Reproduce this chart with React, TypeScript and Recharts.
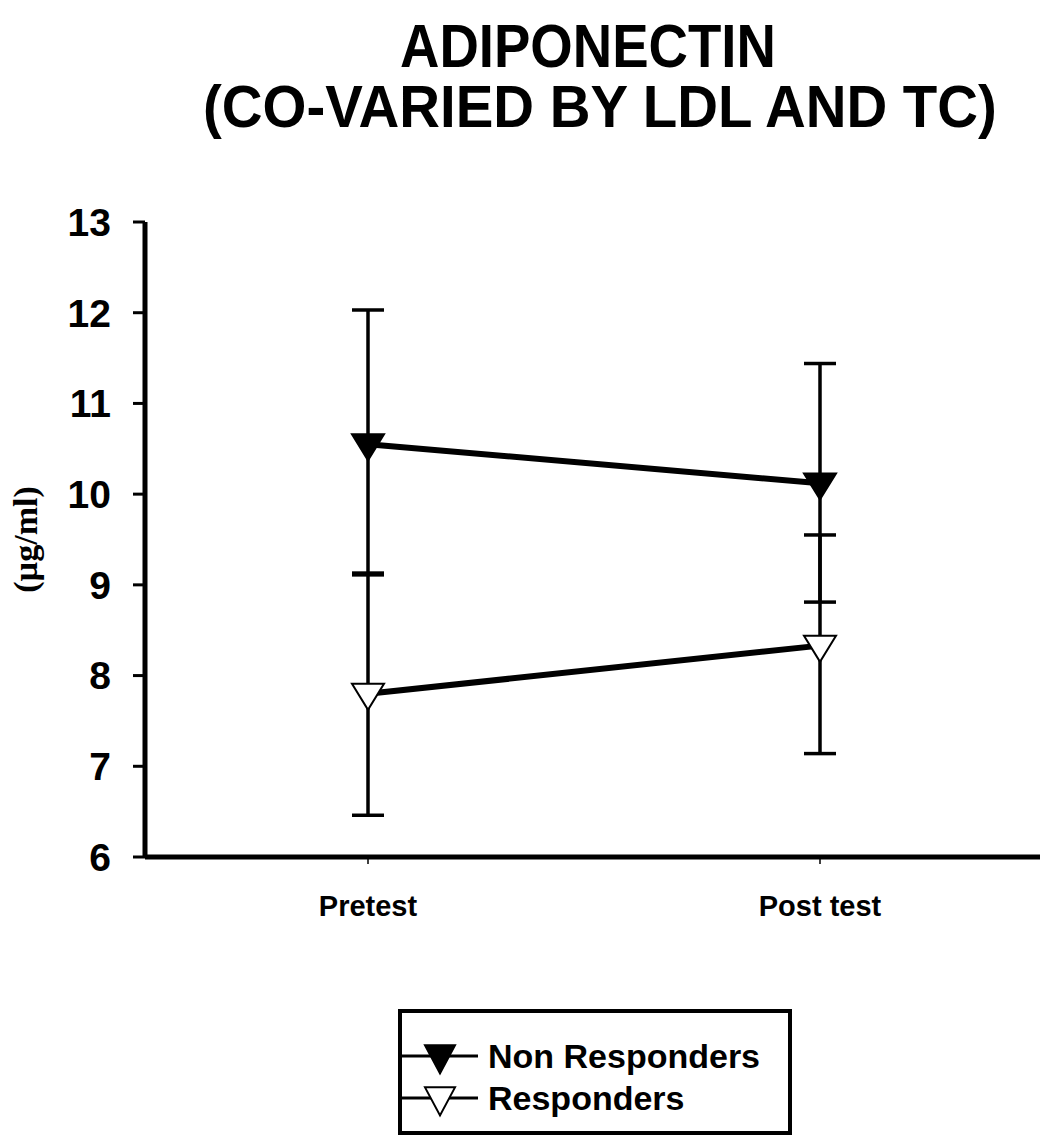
import React from 'react';
import { LineChart, Line, XAxis, YAxis, ErrorBar } from 'recharts';

const categories = ['Pretest', 'Post test'];
const nonResponders = [10.55, 10.12];
const nonRespErr = [[1.44, 1.48], [1.31, 1.32]];
const responders = [7.8, 8.33];
const respErr = [[1.34, 1.33], [1.19, 1.22]];
const yTicks = [6, 7, 8, 9, 10, 11, 12, 13];

const data = categories.map((name, i) => ({
    name,
    nonResponders: nonResponders[i],
    nrErr: nonRespErr[i],
    responders: responders[i],
    rErr: respErr[i],
}));

const ARIAL = 'Arial, "Liberation Sans", Helvetica, sans-serif';

const triangle = (cx: number, cy: number, w: number, h: number) =>
    `${cx - w / 2},${cy - h * 0.38} ${cx + w / 2},${cy - h * 0.38} ${cx},${cy + h * 0.62}`;

const makeDot = (fill: string) => (props: any) => {
    const { cx, cy, index } = props;
    return (
        <polygon
            key={`dot-${fill}-${index}`}
            points={triangle(cx, cy, 32, 26)}
            fill={fill}
            stroke="#000"
            strokeWidth={2}
        />
    );
};

const LegendRow = ({ fill, label }: { fill: string; label: string }) => (
    <div style={{ display: 'flex', alignItems: 'center', height: 42 }}>
        <svg width={78} height={42}>
            <line x1={0} y1={21} x2={76} y2={21} stroke="#000" strokeWidth={3} />
            <polygon points={triangle(38, 21, 30, 28)} fill={fill} stroke="#000" strokeWidth={2} />
        </svg>
        <span style={{ fontFamily: ARIAL, fontWeight: 700, fontSize: 34, marginLeft: 8, color: '#000', lineHeight: '42px' }}>
            {label}
        </span>
    </div>
);

const titleLine = (top: number, left: number, size: number, scale: number): React.CSSProperties => ({
    position: 'absolute',
    top,
    left,
    fontFamily: ARIAL,
    fontWeight: 700,
    fontSize: size,
    lineHeight: '60px',
    height: 60,
    whiteSpace: 'nowrap',
    color: '#000',
    transform: `scaleX(${scale})`,
    transformOrigin: 'left top',
});

export default function App() {
    return (
        <div style={{ position: 'absolute', left: 0, top: 0, width: 1040, height: 1137, background: '#fff' }}>
            <div style={titleLine(16, 400, 62, 0.88)}>ADIPONECTIN</div>
            <div style={titleLine(77, 203, 60, 0.94)}>(CO-VARIED BY LDL AND TC)</div>

            <div style={{ position: 'absolute', left: 0, top: 0 }}>
                <LineChart
                    width={1040}
                    height={1137}
                    data={data}
                    margin={{ top: 222, right: 0, bottom: 220, left: 0 }}
                >
                    <XAxis
                        dataKey="name"
                        height={60}
                        padding={{ left: 223, right: 220 }}
                        axisLine={{ stroke: '#000', strokeWidth: 5 }}
                        tickLine={{ stroke: '#000', strokeWidth: 1.5 }}
                        tickSize={7}
                        tickMargin={31}
                        tick={{ fill: '#000', fontFamily: ARIAL, fontWeight: 700, fontSize: 29 }}
                    />
                    <YAxis
                        width={145}
                        domain={[6, 13]}
                        ticks={yTicks}
                        interval={0}
                        axisLine={{ stroke: '#000', strokeWidth: 5 }}
                        tickLine={{ stroke: '#000', strokeWidth: 3 }}
                        tickSize={12}
                        tickMargin={22}
                        tick={{ fill: '#000', fontFamily: ARIAL, fontWeight: 700, fontSize: 39 }}
                        label={({ viewBox }: any) => {
                            const x = 25;
                            const y = viewBox.y + viewBox.height / 2;
                            return (
                                <text
                                    x={x}
                                    y={y}
                                    transform={`rotate(-90, ${x}, ${y})`}
                                    textAnchor="middle"
                                    dominantBaseline="central"
                                    fontFamily='"Times New Roman", "Liberation Serif", serif'
                                    fontWeight={700}
                                    fontSize={34}
                                    fill="#000"
                                >
                                    (µg/ml)
                                </text>
                            );
                        }}
                    />
                    <Line
                        type="linear"
                        dataKey="nonResponders"
                        stroke="#000"
                        strokeWidth={6}
                        dot={makeDot('#000')}
                        activeDot={false}
                        isAnimationActive={false}
                    >
                        <ErrorBar dataKey="nrErr" direction="y" width={16} stroke="#000" strokeWidth={3.5} />
                    </Line>
                    <Line
                        type="linear"
                        dataKey="responders"
                        stroke="#000"
                        strokeWidth={6}
                        dot={makeDot('#fff')}
                        activeDot={false}
                        isAnimationActive={false}
                    >
                        <ErrorBar dataKey="rErr" direction="y" width={16} stroke="#000" strokeWidth={3.5} />
                    </Line>
                </LineChart>
            </div>

            <div
                style={{
                    position: 'absolute',
                    left: 398,
                    top: 1009,
                    width: 394,
                    height: 126,
                    boxSizing: 'border-box',
                    border: '4px solid #000',
                    paddingTop: 22,
                    paddingLeft: 0,
                }}
            >
                <LegendRow fill="#000" label="Non Responders" />
                <LegendRow fill="#fff" label="Responders" />
            </div>
        </div>
    );
}
